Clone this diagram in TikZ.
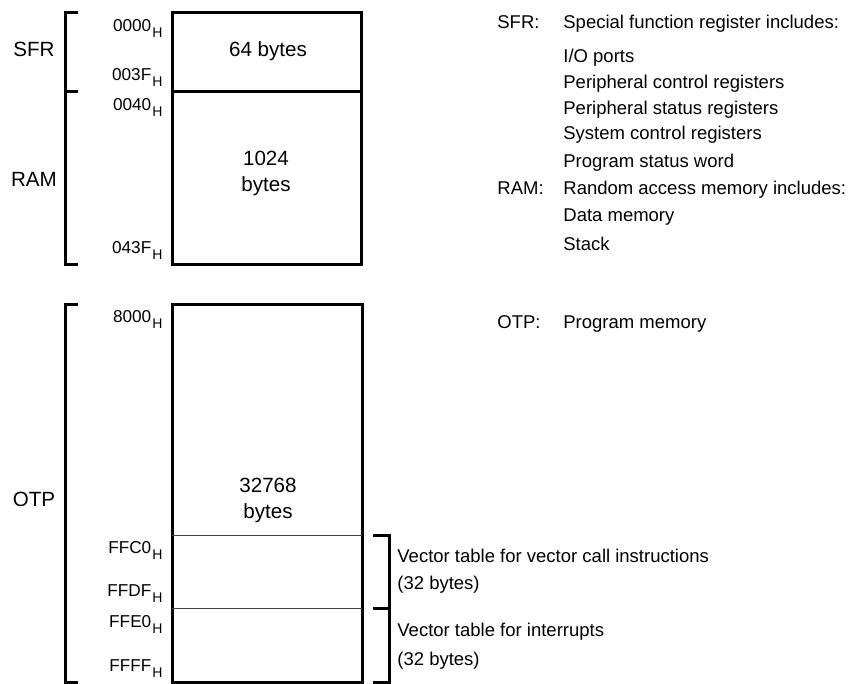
\documentclass[tikz,border=0pt]{standalone}
\usepackage{fontspec}
\setmainfont{Liberation Sans}
\usetikzlibrary{positioning}
\newcommand{\hexaddr}[1]{#1\kern0.6pt\raisebox{-2.6pt}{\fontsize{7}{7}\selectfont H}}

\begin{document}
\begin{tikzpicture}[
    x=0.5pt, y=-0.5pt,
    memline/.style={line width=1.5pt},
    splitline/.style={line width=0.5pt, draw=black!75},
    region/.style={anchor=base, inner sep=0pt, font=\fontsize{10.3}{12}\selectfont},
    addr/.style={anchor=base east, inner sep=0pt, font=\fontsize{8.6}{9}\selectfont},
    sizetext/.style={anchor=base, inner sep=0pt, align=center, font=\fontsize{10.3}{13.25}\selectfont},
    note/.style={anchor=base west, inner sep=0pt, font=\fontsize{9.25}{11}\selectfont}
]
    \useasboundingbox (0,0) rectangle (848,684);

    % Memory blocks
    \draw [memline] (172,13) rectangle (361,265);
    \draw [memline] (172,92) -- (361,92);
    \draw [memline] (172,305) rectangle (362,683);
    \draw [splitline] (172,536) -- (362,536);
    \draw [splitline] (172,609) -- (362,609);

    % Left brackets
    \draw [memline] (78,13) -- (65,13) -- (65,265) -- (78,265);
    \draw [memline] (65,92) -- (78,92);
    \draw [memline] (78,305) -- (65,305) -- (65,683) -- (78,683);

    % Right bracket
    \draw [memline] (373,536) -- (389,536) -- (389,683) -- (373,683);
    \draw [memline] (373,609) -- (389,609);

    % Region names
    \node (sfr) [region] at (34,57) {SFR};
    \node (ram) [region] at (34,187) {RAM};
    \node (otp) [region] at (34,507) {OTP};

    % Addresses
    \node (a0000) [addr] at (163,32) {\hexaddr{0000}};
    \node (a003f) [addr] at (163,81) {\hexaddr{003F}};
    \node (a0040) [addr] at (163,111) {\hexaddr{0040}};
    \node (a043f) [addr] at (163,254) {\hexaddr{043F}};
    \node (a8000) [addr] at (163,323) {\hexaddr{8000}};
    \node (affc0) [addr] at (163,554) {\hexaddr{FFC0}};
    \node (affdf) [addr] at (163,597) {\hexaddr{FFDF}};
    \node (affe0) [addr] at (163,628) {\hexaddr{FFE0}};
    \node (affff) [addr] at (163,672) {\hexaddr{FFFF}};

    % Block sizes
    \node (sz_sfr) [sizetext] at (268,57) {64 bytes};
    \node (sz_ram) [sizetext] at (266,192) {1024\\bytes};
    \node (sz_otp) [sizetext] at (268,519) {32768\\bytes};

    % Descriptions
    \node (n_sfr) [note] at (497,28.5) {SFR:};
    \node (d_sfr) [note] at (563,28.5) {Special function register includes:};
    \node (d_io) [note] at (563,62.5) {I/O ports};
    \node (d_pcr) [note] at (563,89) {Peripheral control registers};
    \node (d_psr) [note] at (563,115) {Peripheral status registers};
    \node (d_scr) [note] at (563,140) {System control registers};
    \node (d_psw) [note] at (563,168) {Program status word};
    \node (n_ram) [note] at (497,195) {RAM:};
    \node (d_ram) [note] at (563,195) {Random access memory includes:};
    \node (d_data) [note] at (563,222) {Data memory};
    \node (d_stack) [note] at (563,250.5) {Stack};
    \node (n_otp) [note] at (497,329) {OTP:};
    \node (d_otp) [note] at (563,329) {Program memory};

    % Vector tables
    \node (d_vcal) [note] at (397,563) {Vector table for vector call instructions};
    \node (d_vcal_sz) [note] at (397,590) {(32 bytes)};
    \node (d_vint) [note] at (397,637) {Vector table for interrupts};
    \node (d_vint_sz) [note] at (397,666) {(32 bytes)};

\end{tikzpicture}
\end{document}
